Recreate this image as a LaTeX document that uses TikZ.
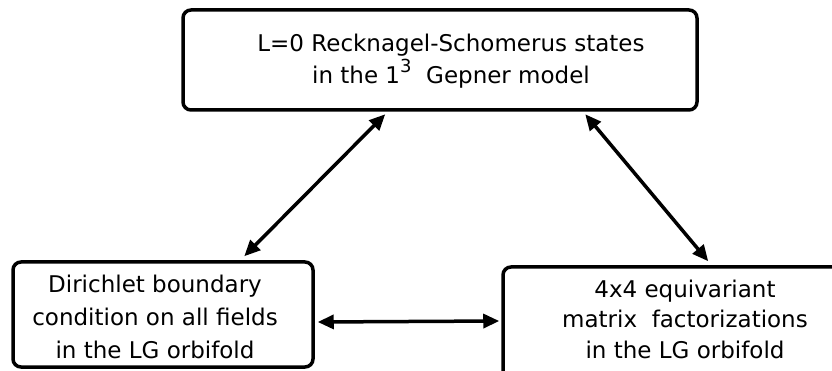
\documentclass[tikz,border=0pt]{standalone}
\usepackage{fontspec}
\setmainfont{DejaVu Sans}
\usepackage{tikz}
\usetikzlibrary{arrows.meta,positioning,calc}

\begin{document}
\begin{tikzpicture}[x = 1pt, y = -1pt, >={Triangle[length=16pt, width=14pt]}]
\tikzset{box/.style = {draw, line width = 3.5pt, rounded corners = 8pt, inner sep = 0pt}}
\clip (0,0) rectangle (832,371);
\node[box, minimum width = 514pt, minimum height = 100pt] (top) at (440,60) {};
\node[box, minimum width = 300pt, minimum height = 105pt] (lg) at (163,314.5) {};
\node[box, minimum width = 363pt, minimum height = 113pt] (mf) at (684.5,323.5) {};
\node[font = \fontsize{23}{32}\selectfont, align = center, inner sep = 0pt] (tt) at (451,61.5) {L=0 Recknagel-Schomerus states\\in the 1\raisebox{11pt}{\fontsize{18}{18}\selectfont 3}\ \ Gepner model};
\node[font = \fontsize{23}{33}\selectfont, align = center, inner sep = 0pt] (lt) at (155,316.5) {Dirichlet boundary\\condition on all fields\\in the LG orbifold};
\node[font = \fontsize{23}{30.5}\selectfont, align = center, inner sep = 0pt] (rt) at (685,319) {4x4 equivariant\\matrix\ \ factorizations\\in the LG orbifold};
\draw[<->, line width = 3.5pt] ([xshift = 204pt, yshift = -2.5pt]top.south west) -- ([xshift = 233pt, yshift = 4pt]lg.north west);
\draw[<->, line width = 3.5pt] ([xshift = 404pt, yshift = -2.5pt]top.south west) -- ([xshift = 207pt, yshift = 4pt]mf.north west);
\draw[<->, line width = 3.5pt] ([xshift = 3pt, yshift = -7.5pt]lg.east) -- ([xshift = -2pt, yshift = 2.5pt]mf.west);
\end{tikzpicture}
\end{document}
